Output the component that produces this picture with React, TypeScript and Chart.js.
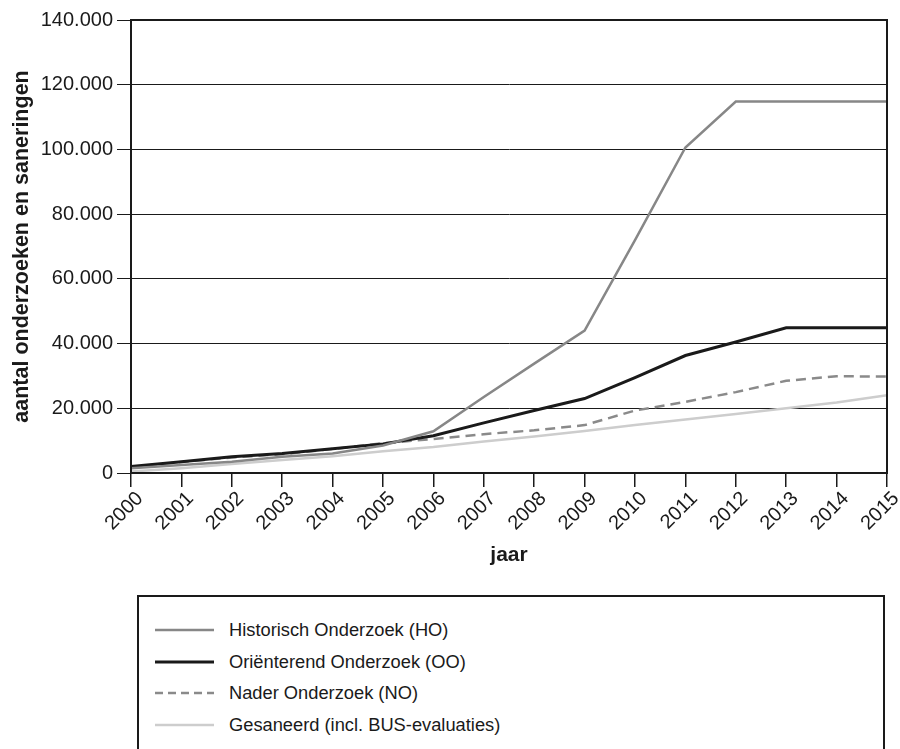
import React, { useEffect, useRef } from "react";
import { Chart, registerables } from "chart.js";

Chart.register(...registerables);

const years = ["2000","2001","2002","2003","2004","2005","2006","2007","2008","2009","2010","2011","2012","2013","2014","2015"];
const historisch = [1500, 2500, 3500, 5000, 6000, 8500, 12900, 23500, 33800, 44000, 72000, 100600, 114800, 114800, 114800, 114800];
const orienterend = [2000, 3500, 5000, 6000, 7500, 9000, 11500, 15500, 19300, 23000, 29500, 36300, 40500, 44900, 44900, 44900];
const nader = [1800, 3400, 4800, 5800, 7400, 9200, 10500, 12000, 13200, 14800, 19300, 22000, 25000, 28500, 29900, 29800];
const gesaneerd = [500, 1500, 2800, 4000, 5200, 6700, 8000, 9700, 11300, 13000, 14800, 16500, 18200, 20000, 21800, 24000];

const seriesNames = [
  "Historisch Onderzoek (HO)",
  "Oriënterend Onderzoek (OO)",
  "Nader Onderzoek (NO)",
  "Gesaneerd (incl. BUS-evaluaties)",
];
const yTicks = [0, 20000, 40000, 60000, 80000, 100000, 120000, 140000];

const FONT = "'Liberation Sans', Arial, sans-serif";
const colors = ["#878787", "#1a1a1a", "#8a8a8a", "#cdcdcd"];
const widths = [2.5, 3, 2.5, 2.5];
const dashes: number[][] = [[], [], [10, 6], []];

const fmt = (v: number) => String(v).replace(/\B(?=(\d{3})+(?!\d))/g, ".");

const frame = {
  id: "frame",
  afterDatasetsDraw(chart: any) {
    const { ctx, chartArea } = chart;
    ctx.save();
    ctx.strokeStyle = "#1a1a1a";
    ctx.lineWidth = 2;
    ctx.strokeRect(chartArea.left, chartArea.top, chartArea.right - chartArea.left, chartArea.bottom - chartArea.top);
    ctx.restore();
  },
};

export default function App() {
  const ref = useRef<HTMLCanvasElement>(null);
  useEffect(() => {
    if (!ref.current) return;
    const data = [historisch, orienterend, nader, gesaneerd];
    const chart = new Chart(ref.current, {
      type: "line",
      data: {
        labels: years,
        datasets: data.map((d, i) => ({
          label: seriesNames[i],
          data: d,
          borderColor: colors[i],
          borderWidth: widths[i],
          borderDash: dashes[i],
          pointRadius: 0,
          tension: 0,
          fill: false,
        })),
      },
      options: {
        animation: false,
        responsive: true,
        maintainAspectRatio: false,
        layout: { padding: { top: 20, right: 13, bottom: 20, left: 0 } },
        plugins: { legend: { display: false }, tooltip: { enabled: false } },
        scales: {
          x: {
            offset: false,
            grid: { drawOnChartArea: false, drawTicks: true, tickLength: 14, color: "#1a1a1a", lineWidth: 1.5 },
            border: { color: "#1a1a1a", width: 2 },
            ticks: { color: "#1a1a1a", font: { family: FONT, size: 20 }, minRotation: 45, maxRotation: 45, autoSkip: false, padding: 0, labelOffset: 9 },
            title: { display: true, text: "jaar", color: "#1a1a1a", font: { family: FONT, size: 21, weight: "bold" }, padding: { top: 0, bottom: 2 } },
            afterFit: (s: any) => { s.height = 97; s.paddingRight = 0; s.paddingLeft = 0; },
          },
          y: {
            min: 0,
            max: 140000,
            afterBuildTicks: (s: any) => { s.ticks = yTicks.map((v) => ({ value: v })); },
            grid: { drawOnChartArea: true, drawTicks: true, tickLength: 14, color: "#1a1a1a", lineWidth: 1 },
            border: { color: "#1a1a1a", width: 2 },
            ticks: { color: "#1a1a1a", font: { family: FONT, size: 20 }, padding: 4, callback: (v: any) => fmt(Number(v)) },
            title: { display: true, text: "aantal onderzoeken en saneringen", color: "#1a1a1a", font: { family: FONT, size: 21.5, weight: "bold" }, padding: { top: 9, bottom: 0 } },
            afterFit: (s: any) => { s.width = 131; },
          },
        },
      },
      plugins: [frame],
    });
    return () => chart.destroy();
  }, []);

  return (
    <div style={{ position: "absolute", left: 0, top: 0, width: 900, height: 749, background: "#fff", overflow: "hidden" }}>
      <div style={{ position: "absolute", left: 0, top: 0, width: 900, height: 590 }}>
        <canvas ref={ref} />
      </div>
      <div style={{ position: "absolute", left: 137, top: 595, width: 748, height: 170, border: "2px solid #1a1a1a", boxSizing: "border-box", fontFamily: FONT, fontSize: 18.3, color: "#1a1a1a" }}>
        {seriesNames.map((n, i) => (
          <div key={n} style={{ position: "absolute", left: 0, top: 21 + i * 31.5, height: 24, display: "flex", alignItems: "center" }}>
            <svg width={76} height={24} style={{ marginLeft: 14 }}>
              <line x1={2} y1={12} x2={61} y2={12} stroke={colors[i]} strokeWidth={widths[i]} strokeDasharray={dashes[i].length ? "8 5" : undefined} />
            </svg>
            <span style={{ marginLeft: 0 }}>{n}</span>
          </div>
        ))}
      </div>
    </div>
  );
}
